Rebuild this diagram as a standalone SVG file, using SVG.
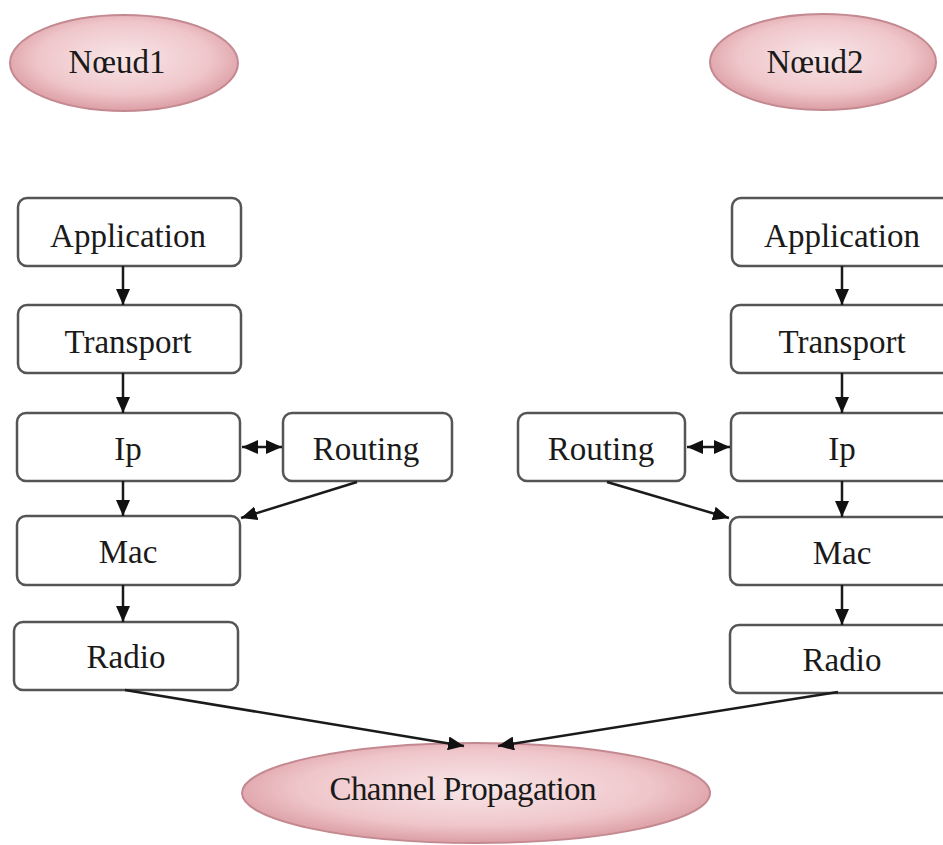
<svg xmlns="http://www.w3.org/2000/svg" width="943" height="845" viewBox="0 0 943 845">
<defs>
<radialGradient id="pink" cx="0.5" cy="0.45" r="0.58">
<stop offset="0" stop-color="#f8e6e8"/>
<stop offset="0.65" stop-color="#efc6ca"/>
<stop offset="1" stop-color="#d8979e"/>
</radialGradient>
<marker id="ah" viewBox="0 0 16 14" refX="16" refY="7" markerWidth="16" markerHeight="14" markerUnits="userSpaceOnUse" orient="auto-start-reverse">
<path d="M0,0 L16,7 L0,14 Z" fill="#111"/>
</marker>
</defs>
<style>
.box{fill:#fff;stroke:#555;stroke-width:2.5}
.ell{fill:url(#pink);stroke:#c48990;stroke-width:2}
.t{font-family:"Liberation Serif","Times New Roman",serif;font-size:33px;fill:#1a1a1a;text-anchor:middle}
.c{stroke:#1a1a1a;stroke-width:2.5;fill:none}
</style>
<rect width="943" height="845" fill="#fff"/>

<g id="noeud1"><ellipse class="ell" cx="124" cy="63" rx="114" ry="48"/><text class="t" x="117" y="73">Nœud1</text></g>
<g id="noeud2"><ellipse class="ell" cx="823" cy="62" rx="113" ry="48"/><text class="t" x="815" y="73">Nœud2</text></g>
<g id="channel"><ellipse class="ell" cx="476" cy="793" rx="234" ry="50"/><text class="t" x="463" y="800" textLength="267">Channel Propagation</text></g>

<g id="app1"><rect class="box" x="18" y="198" width="223" height="68" rx="9"/><text class="t" x="128" y="247">Application</text></g>
<g id="trans1"><rect class="box" x="18" y="305" width="223" height="68" rx="9"/><text class="t" x="128" y="353">Transport</text></g>
<g id="ip1"><rect class="box" x="17" y="413" width="223" height="68" rx="9"/><text class="t" x="128" y="460">Ip</text></g>
<g id="routing1"><rect class="box" x="283" y="413" width="169" height="68" rx="9"/><text class="t" x="366" y="460">Routing</text></g>
<g id="mac1"><rect class="box" x="17" y="516" width="223" height="69" rx="9"/><text class="t" x="128" y="563">Mac</text></g>
<g id="radio1"><rect class="box" x="14" y="622" width="224" height="68" rx="9"/><text class="t" x="126" y="668">Radio</text></g>

<g id="app2"><rect class="box" x="732" y="198" width="222" height="68" rx="9"/><text class="t" x="842" y="247">Application</text></g>
<g id="trans2"><rect class="box" x="731" y="305" width="222" height="68" rx="9"/><text class="t" x="842" y="353">Transport</text></g>
<g id="ip2"><rect class="box" x="731" y="413" width="222" height="68" rx="9"/><text class="t" x="842" y="460">Ip</text></g>
<g id="routing2"><rect class="box" x="518" y="413" width="167" height="68" rx="9"/><text class="t" x="601" y="460">Routing</text></g>
<g id="mac2"><rect class="box" x="730" y="517" width="222" height="68" rx="9"/><text class="t" x="842" y="564">Mac</text></g>
<g id="radio2"><rect class="box" x="730" y="625" width="222" height="68" rx="9"/><text class="t" x="842" y="671">Radio</text></g>

<g id="connectors">
<line class="c" x1="123" y1="266" x2="123" y2="305" marker-end="url(#ah)"/>
<line class="c" x1="123" y1="373" x2="123" y2="413" marker-end="url(#ah)"/>
<line class="c" x1="123" y1="481" x2="123" y2="516" marker-end="url(#ah)"/>
<line class="c" x1="123" y1="585" x2="123" y2="622" marker-end="url(#ah)"/>
<line class="c" x1="242" y1="447" x2="282" y2="447" marker-start="url(#ah)" marker-end="url(#ah)"/>
<line class="c" x1="357" y1="482" x2="241" y2="518" marker-end="url(#ah)"/>
<line class="c" x1="125" y1="690" x2="464" y2="746" marker-end="url(#ah)"/>

<line class="c" x1="842" y1="266" x2="842" y2="305" marker-end="url(#ah)"/>
<line class="c" x1="842" y1="373" x2="842" y2="413" marker-end="url(#ah)"/>
<line class="c" x1="842" y1="481" x2="842" y2="517" marker-end="url(#ah)"/>
<line class="c" x1="842" y1="585" x2="842" y2="625" marker-end="url(#ah)"/>
<line class="c" x1="687" y1="447" x2="730" y2="447" marker-start="url(#ah)" marker-end="url(#ah)"/>
<line class="c" x1="607" y1="482" x2="729" y2="518" marker-end="url(#ah)"/>
<line class="c" x1="838" y1="692" x2="498" y2="746" marker-end="url(#ah)"/>
</g>
</svg>
